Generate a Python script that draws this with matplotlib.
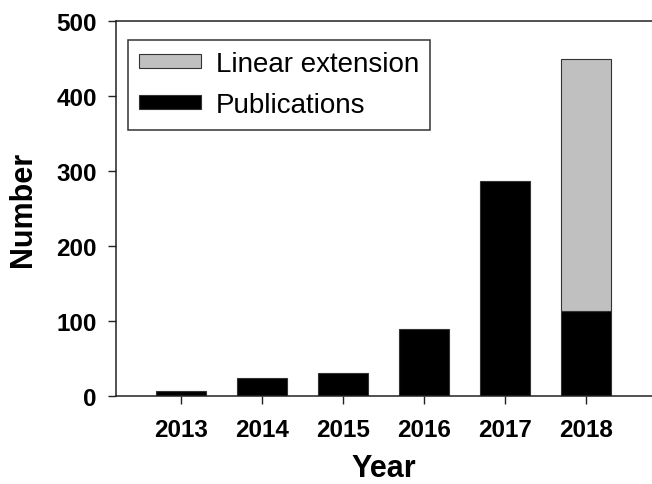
import matplotlib
matplotlib.use('Agg')
import matplotlib.pyplot as plt
import numpy as np

# data
years = ['2013', '2014', '2015', '2016', '2017', '2018']
publications = [7, 24, 31, 90, 287, 113]
ext_years = ['2018']
ext_values = [336]   # linear extension stacked on the 2018 publications
y_ticks = [0, 100, 200, 300, 400, 500]

plt.rcParams['font.family'] = ['Liberation Sans', 'DejaVu Sans']

W, H = 652, 485
fig = plt.figure(figsize=(W / 100, H / 100), dpi=100)
ax = fig.add_axes([115.7 / W, 1 - 397.3 / H, 1 - 115.7 / W, (397.3 - 21.7) / H])

x = np.arange(len(years))
bw = 0.617
ax.bar(x, publications, width=bw, color='black', edgecolor='#333333',
       linewidth=0.8, label='Publications')
ext_x = [years.index(y) for y in ext_years]
ext_bottom = [publications[i] for i in ext_x]
ax.bar(ext_x, ext_values, width=bw, bottom=ext_bottom, color='#c0c0c0',
       edgecolor='#333333', linewidth=0.8, label='Linear extension')

ax.set_xlim(-0.806, 5.815)
ax.set_ylim(0, 500)
ax.set_xticks(x)
ax.set_xticklabels(years, fontsize=17.5, fontweight='bold')
ax.set_yticks(y_ticks)
ax.set_yticklabels([str(v) for v in y_ticks], fontsize=17.5, fontweight='bold')
ax.tick_params(axis='both', direction='out', length=5.5, width=1, color='#222222')
ax.tick_params(axis='y', pad=8)
ax.tick_params(axis='x', pad=10)

ax.spines['right'].set_visible(False)
for s in ['left', 'top', 'bottom']:
    ax.spines[s].set_linewidth(1.1)
    ax.spines[s].set_color('#222222')

ax.set_xlabel('Year', fontsize=22, fontweight='bold', labelpad=9)
ax.set_ylabel('Number', fontsize=22, fontweight='bold', labelpad=13)

h, l = ax.get_legend_handles_labels()
leg = ax.legend(h[::-1], l[::-1], loc='upper left',
                bbox_to_anchor=(128.3 / W, 1 - 41 / H),
                bbox_transform=fig.transFigure, fontsize=20,
                fancybox=False, framealpha=1, edgecolor='#333333',
                handlelength=2.2, handleheight=0.4, handletextpad=0.54,
                borderpad=0.4, labelspacing=0.55, borderaxespad=0)
leg.get_frame().set_linewidth(1.1)

fig.savefig('out.png', dpi=100)
